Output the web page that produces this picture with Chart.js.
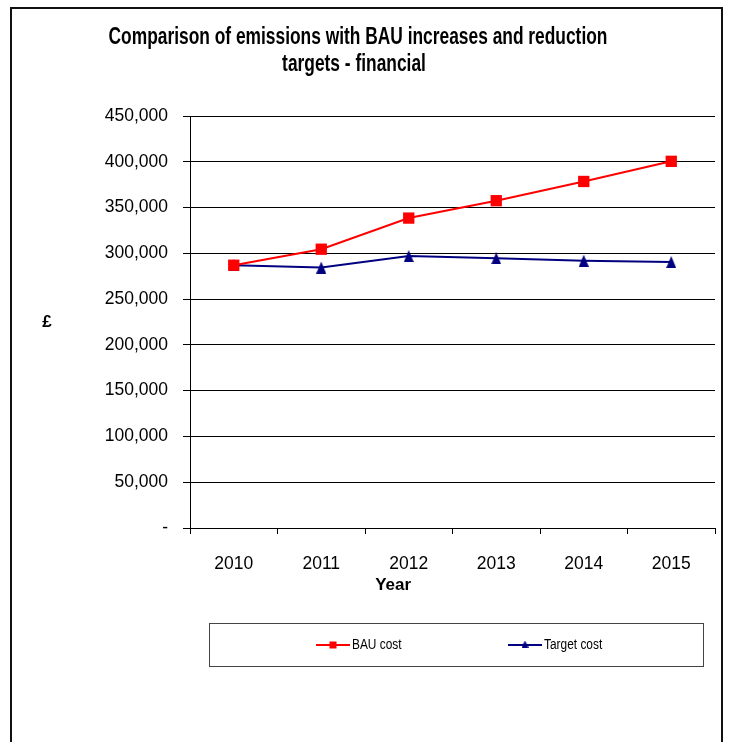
<!DOCTYPE html>
<html>
<head>
<meta charset="utf-8">
<script src="https://cdn.jsdelivr.net/npm/chart.js@4"></script>
<style>
  html, body { margin: 0; padding: 0; background: #fff; }
  #wrap { width: 730px; height: 742px; }
</style>
</head>
<body>
<div id="wrap"><canvas id="c" width="730" height="742"></canvas></div>
<script>
// Financial cost per year: business-as-usual growth vs. reduction target
const years = ['2010', '2011', '2012', '2013', '2014', '2015'];
const bauCost = [287000, 304500, 338500, 357500, 378500, 400500];
const targetCost = [287000, 284500, 297000, 294500, 292000, 290500];
const seriesNames = ['BAU cost', 'Target cost'];
const titleLines = ['Comparison of emissions with BAU increases and reduction', 'targets - financial'];
const xAxisName = 'Year';
const yAxisName = '£';

const SANS = '"Liberation Sans", Arial, sans-serif';

// Condensed text: the sans face squeezed horizontally
function narrowText(ctx, text, x, y, font, squeeze, align) {
  ctx.save();
  ctx.font = font;
  ctx.textAlign = align;
  ctx.textBaseline = 'alphabetic';
  ctx.translate(x, y);
  ctx.scale(squeeze, 1);
  ctx.fillText(text, 0, 0);
  ctx.restore();
}

// Tall, slim triangle marker
function triangleMarker(w, h, color) {
  const cv = document.createElement('canvas');
  cv.width = w; cv.height = h;
  const c = cv.getContext('2d');
  c.fillStyle = color;
  c.beginPath();
  c.moveTo(w / 2, 0);
  c.lineTo(w, h);
  c.lineTo(0, h);
  c.closePath();
  c.fill();
  return cv;
}
const navyTriangle = triangleMarker(10, 12, '#000080');
const navyTriangleSmall = triangleMarker(7, 7, '#000080');

// Frame around the whole chart
const framePlugin = {
  id: 'frame',
  beforeDraw(chart) {
    const ctx = chart.ctx;
    ctx.save();
    ctx.fillStyle = '#fff';
    ctx.fillRect(0, 0, chart.width, chart.height);
    ctx.strokeStyle = '#111';
    ctx.lineWidth = 2;
    ctx.strokeRect(11, 8, 711, 800);
    ctx.restore();
  }
};

// Two-line heading in a condensed bold face
const headingPlugin = {
  id: 'heading',
  afterDraw(chart) {
    const ctx = chart.ctx;
    ctx.fillStyle = '#000';
    narrowText(ctx, titleLines[0], 358, 44, 'bold 23px ' + SANS, 0.755, 'center');
    narrowText(ctx, titleLines[1], 354, 71, 'bold 23px ' + SANS, 0.755, 'center');
  }
};

// Axis names ("£" is drawn upright, "Year" sits under the ticks)
const axisNamesPlugin = {
  id: 'axisNames',
  afterDraw(chart) {
    const ctx = chart.ctx;
    const a = chart.chartArea;
    ctx.save();
    ctx.fillStyle = '#000';
    ctx.textAlign = 'center';
    ctx.textBaseline = 'middle';
    ctx.font = 'bold 17px ' + SANS;
    ctx.fillText(yAxisName, 47, (a.top + a.bottom) / 2);
    ctx.fillText(xAxisName, a.left + (a.right - a.left) * 0.387, a.bottom + 57);
    ctx.restore();
  }
};

// Boxed legend below the plot, line + marker samples
const boxLegendPlugin = {
  id: 'boxLegend',
  afterDraw(chart) {
    const ctx = chart.ctx;
    const box = { x: 209.5, y: 623.5, w: 494, h: 43 };
    const cy = box.y + box.h / 2;
    const starts = [316, 508];
    ctx.save();
    ctx.strokeStyle = '#444';
    ctx.lineWidth = 1;
    ctx.strokeRect(box.x, box.y, box.w, box.h);
    chart.data.datasets.forEach((ds, i) => {
      const x0 = starts[i];
      ctx.strokeStyle = ds.borderColor;
      ctx.lineWidth = 2;
      ctx.beginPath();
      ctx.moveTo(x0, cy);
      ctx.lineTo(x0 + 34, cy);
      ctx.stroke();
      if (i === 0) {
        ctx.fillStyle = ds.pointBackgroundColor;
        ctx.fillRect(x0 + 17 - 3.5, cy - 3.5, 7, 7);
      } else {
        ctx.drawImage(navyTriangleSmall, x0 + 17 - 3.5, cy - 4.5);
      }
      ctx.fillStyle = '#000';
      narrowText(ctx, ds.label, x0 + 36, 649, '14px ' + SANS, 0.85, 'left');
    });
    ctx.restore();
  }
};

new Chart(document.getElementById('c'), {
  type: 'line',
  data: {
    labels: years,
    datasets: [
      {
        label: seriesNames[0],
        data: bauCost,
        borderColor: '#FF0000',
        borderWidth: 2,
        pointStyle: 'rect',
        pointRadius: 8,
        pointBackgroundColor: '#FF0000',
        pointBorderColor: '#FF0000',
        pointBorderWidth: 0,
        tension: 0
      },
      {
        label: seriesNames[1],
        data: targetCost,
        borderColor: '#000080',
        borderWidth: 2,
        pointStyle: navyTriangle,
        pointRadius: 6,
        pointBackgroundColor: '#000080',
        pointBorderColor: '#000080',
        tension: 0
      }
    ]
  },
  options: {
    responsive: false,
    animation: false,
    events: [],
    layout: { padding: { left: 10, right: 15, top: 116, bottom: 0 } },
    plugins: {
      legend: { display: false },
      tooltip: { enabled: false },
      title: { display: false }
    },
    scales: {
      x: {
        offset: true,
        afterFit(scale) { scale.height = 214; },
        grid: {
          offset: true,
          drawOnChartArea: false,
          drawTicks: true,
          tickLength: 6,
          color: '#000'
        },
        border: { display: true, color: '#000', width: 1 },
        ticks: {
          color: '#000',
          font: { family: SANS, size: 17.5 },
          padding: 20,
          maxRotation: 0
        }
      },
      y: {
        min: 0,
        max: 450000,
        afterFit(scale) { scale.width = 180; },
        grid: {
          color: '#000',
          lineWidth: 1,
          drawTicks: true,
          tickLength: 7
        },
        border: { display: true, color: '#000', width: 1 },
        ticks: {
          stepSize: 50000,
          color: '#000',
          font: { family: SANS, size: 17.5 },
          padding: 15,
          callback: (v) => v === 0 ? '-' : v.toLocaleString('en-US')
        }
      }
    }
  },
  plugins: [framePlugin, headingPlugin, axisNamesPlugin, boxLegendPlugin]
});
</script>
</body>
</html>
